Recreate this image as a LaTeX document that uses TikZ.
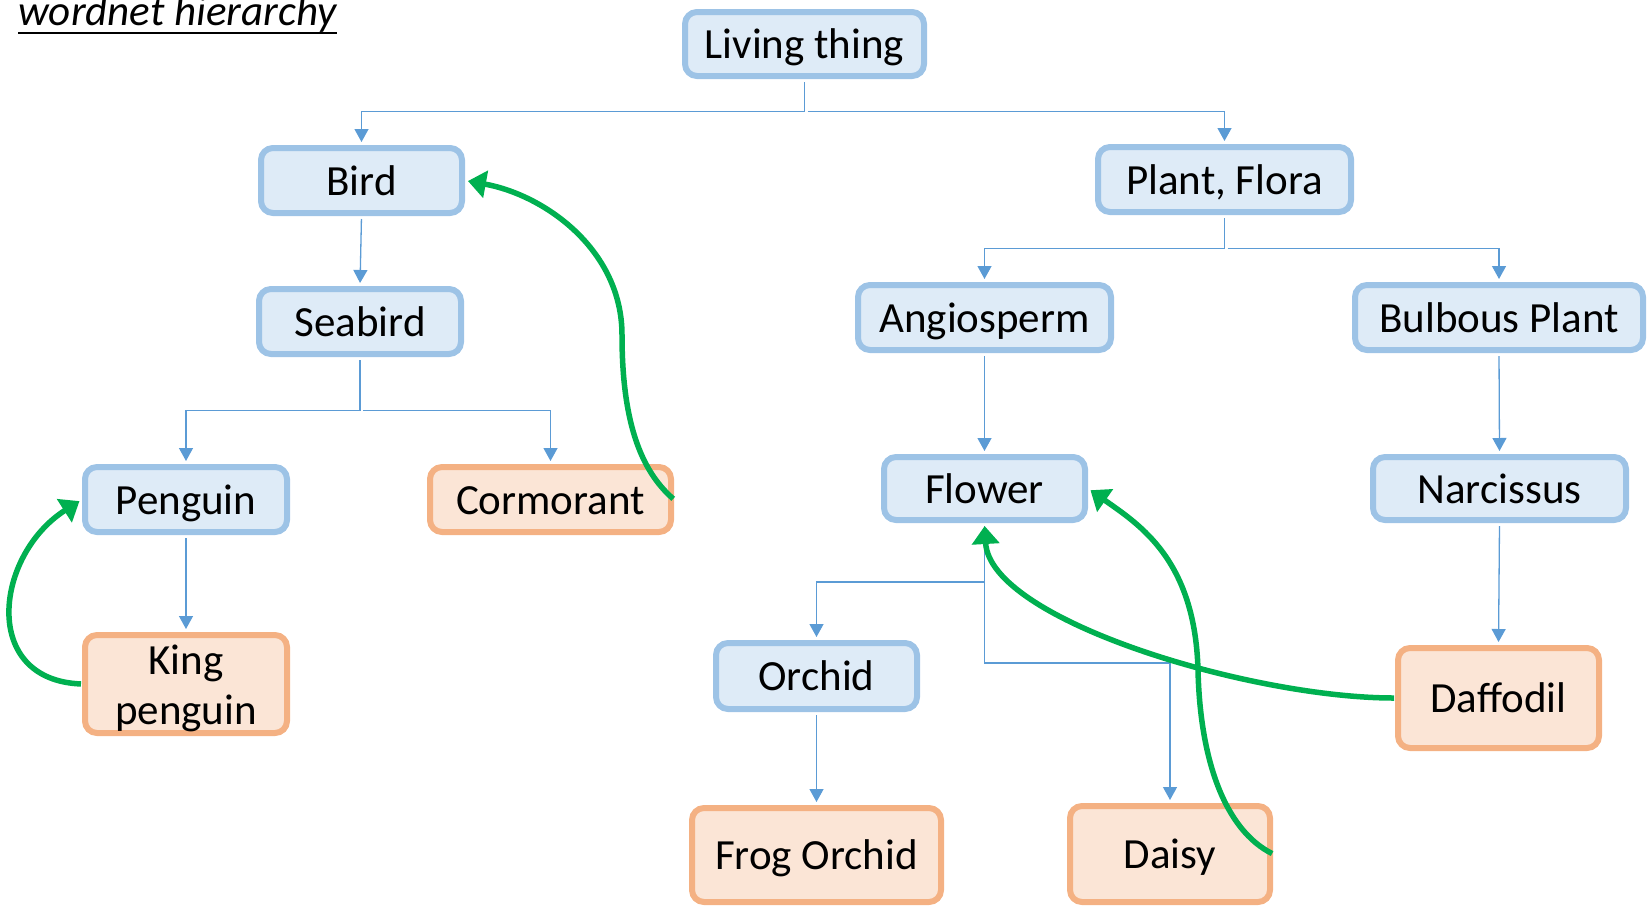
\documentclass[tikz,border=0pt]{standalone}
\usepackage{fontspec}
\setmainfont{Carlito}
\usetikzlibrary{arrows.meta}

\definecolor{fillblue}{HTML}{DEEBF7}
\definecolor{edgeblue}{HTML}{9DC3E6}
\definecolor{fillorange}{HTML}{FBE5D6}
\definecolor{edgeorange}{HTML}{F4B183}
\definecolor{linkblue}{HTML}{5B9BD5}
\definecolor{hypgreen}{HTML}{00B050}

\tikzset{
  box/.style={rectangle, rounded corners=12pt, line width=6pt, inner sep=0pt,
    align=center, font=\fontsize{43}{50}\selectfont,
    text height=30pt, text depth=1pt},
  synset/.style={box, draw=edgeblue, fill=fillblue},
  leaf/.style={box, draw=edgeorange, fill=fillorange},
  conn/.style={draw=linkblue, line width=1.3pt, shorten <=3pt, shorten >=3pt,
    -{Triangle[length=13pt,width=14pt]}},
  hyper/.style={draw=hypgreen, line width=5.5pt, shorten <=1pt, shorten >=3pt,
    -{Triangle[length=18pt,width=27pt]}},
}

\begin{document}
\begin{tikzpicture}[x=1pt,y=-1pt]
\useasboundingbox (0,0) rectangle (1651,905);

% heading
\node[anchor=base west, inner sep=0pt, font=\fontsize{43}{50}\selectfont\itshape]
  (title) at (18,25) {wordnet hierarchy};
\draw[line width=2.5pt] ([yshift=-8pt]title.base west) -- ([yshift=-8pt]title.base east);

% animal branch
\node[synset, minimum width=239pt, minimum height=64pt] (living) at (804.5,44) {Living thing};
\node[synset, minimum width=201pt, minimum height=65pt] (bird) at (361.5,180.5) {Bird};
\node[synset, minimum width=202pt, minimum height=65pt] (seabird) at (360,321.5) {Seabird};
\node[synset, minimum width=202pt, minimum height=65pt] (penguin) at (186,499.5) {Penguin};
\node[leaf, minimum width=241pt, minimum height=65pt] (cormorant) at (550.5,499.5) {Cormorant};
\node[leaf, minimum width=202pt, minimum height=98pt, text height=86pt, text depth=5pt]
  (king) at (186,684) {King\\penguin};

% plant branch
\node[synset, minimum width=253pt, minimum height=65pt] (plant) at (1224.5,179.5) {Plant, Flora};
\node[synset, minimum width=253pt, minimum height=65pt] (angio) at (984.5,317.5) {Angiosperm};
\node[synset, minimum width=288pt, minimum height=65pt] (bulbous) at (1499,317.5) {Bulbous Plant};
\node[synset, minimum width=201pt, minimum height=63pt] (flower) at (984.5,488.5) {Flower};
\node[synset, minimum width=253pt, minimum height=63pt] (narcissus) at (1499.5,488.5) {Narcissus};
\node[synset, minimum width=201pt, minimum height=66pt] (orchid) at (816.5,676) {Orchid};
\node[leaf, minimum width=201pt, minimum height=100pt] (daffodil) at (1498.5,698) {Daffodil};
\node[leaf, minimum width=249pt, minimum height=94pt] (frog) at (816.5,855) {Frog Orchid};
\node[leaf, minimum width=200pt, minimum height=96pt] (daisy) at (1170,854) {Daisy};

% tree connectors
\coordinate (jl) at (804.5,111.5);
\draw[conn] (living.south) -- (jl) -| (bird.north);
\draw[conn] (jl) -| (plant.north);
\draw[conn] (bird.south) -- (seabird.north);
\coordinate (js) at (360,410.5);
\draw[conn] (seabird.south) -- (js) -| (penguin.north);
\draw[conn] (js) -| (cormorant.north);
\draw[conn] (penguin.south) -- (king.north);
\coordinate (jp) at (1224.5,248.5);
\draw[conn] (plant.south) -- (jp) -| (angio.north);
\draw[conn] (jp) -| (bulbous.north);
\draw[conn] (angio.south) -- (flower.north);
\draw[conn] (bulbous.south) -- (narcissus.north);
\draw[conn] (narcissus.south) -- (daffodil.north);
\coordinate (jf1) at (984.5,582);
\coordinate (jf2) at (984.5,663);
\draw[conn] (flower.south) -- (jf1) -| (orchid.north);
\draw[conn] (flower.south) -- (jf2) -| (daisy.north);
\draw[conn] (orchid.south) -- (frog.north);

% hypernym links
\draw[hyper] (cormorant.east) .. controls (640,470) and (622,420) .. (622,335)
  .. controls (622,250) and (545,195) .. (bird.east);
\draw[hyper] (king.west) .. controls (-20,680) and (-5,555) .. (penguin.west);
\draw[hyper] (daisy.east) .. controls (1225,830) and (1200,760) .. (1198,670)
  .. controls (1195,560) and (1140,525) .. (flower.east);
\draw[hyper] (daffodil.west) .. controls (1250,698) and (990,620) .. (flower.south);
\end{tikzpicture}
\end{document}
